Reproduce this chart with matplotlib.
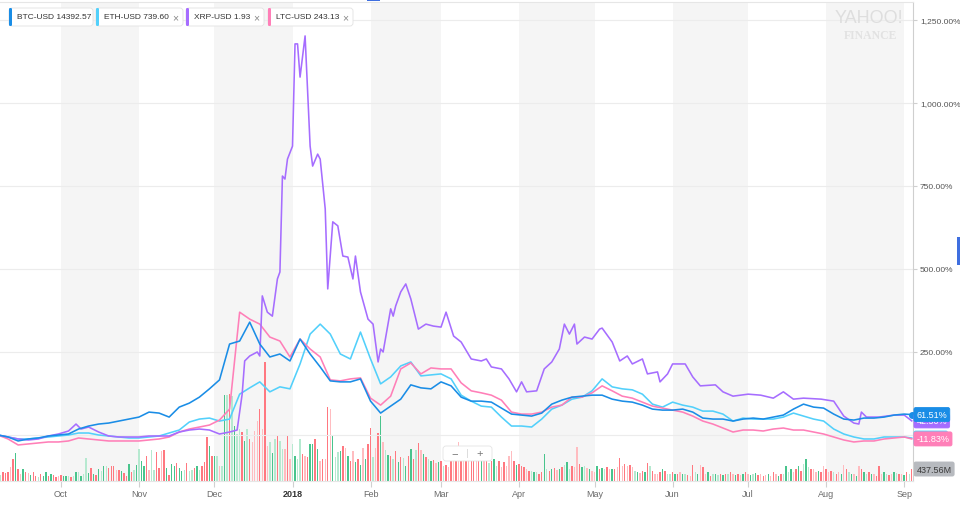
import numpy as np
import matplotlib
matplotlib.use("Agg")
import matplotlib.pyplot as plt
import matplotlib.dates as mdates
from matplotlib.patches import FancyBboxPatch, Rectangle
from matplotlib.transforms import blended_transform_factory

plt.rcParams['font.family'] = ['Liberation Sans', 'DejaVu Sans']

# ── data (percent change since 2017-09-06) ──────────────────────────────
start = np.datetime64("2017-09-06")

line_days = list(range(0, 361, 4)) + [363]

btc_pct = [0, -6, -18, -12, -9, -3, 0, 3, 18, 27,
           33, 36, 42, 48, 54, 69, 66, 54, 84, 96,
           114, 139, 166, 274, 283, 340, 274, 235, 244, 223,
           289, 244, 205, 163, 160, 160, 169, 102, 66, 87,
           108, 151, 142, 139, 160, 148, 114, 102, 102, 99,
           81, 63, 60, 57, 66, 93, 105, 114, 117, 120,
           120, 108, 102, 99, 90, 78, 75, 75, 78, 69,
           51, 48, 48, 42, 48, 51, 48, 54, 60, 78,
           93, 84, 81, 63, 48, 45, 51, 51, 54, 60,
           63, 61.51]

eth_pct = [0, -6, -12, -12, -9, -6, -3, 0, 6, 6,
           0, -3, -6, -9, -9, -6, -3, 6, 15, 39,
           48, 51, 42, 48, 123, 142, 160, 130, 145, 139,
           214, 304, 334, 304, 244, 229, 310, 229, 154, 175,
           208, 220, 178, 181, 184, 169, 120, 102, 87, 84,
           54, 27, 27, 24, 48, 78, 90, 108, 114, 133,
           169, 145, 139, 136, 123, 93, 84, 99, 90, 84,
           72, 72, 63, 42, 51, 48, 48, 48, 54, 66,
           57, 48, 42, 18, 3, -6, -12, -12, -6, -6,
           -6, -9.12]

ltc_pct = [0, -12, -30, -27, -24, -21, -21, -18, -9, -12,
           -15, -18, -18, -18, -18, -15, -12, -6, 9, 18,
           24, 30, 45, 78, 370, 349, 334, 295, 283, 235,
           289, 259, 235, 166, 163, 169, 172, 111, 90, 117,
           199, 217, 184, 202, 199, 199, 157, 133, 127, 120,
           105, 69, 63, 63, 69, 84, 90, 114, 114, 127,
           148, 133, 117, 111, 99, 87, 81, 75, 69, 57,
           42, 33, 21, 9, 15, 15, 12, 18, 21, 15,
           15, 9, 3, -6, -15, -21, -18, -18, -12, -9,
           -6, -11.83]

xrp_days = [0, 4, 8, 12, 16, 20, 24, 28, 31, 33,
            36, 40, 44, 48, 52, 56, 60, 64, 68, 72,
            76, 80, 84, 88, 92, 95, 97, 98, 100, 103,
            104, 105, 107, 109, 111, 112, 113, 114, 115, 117,
            118, 119, 120, 122, 124, 125, 127, 128, 130, 131,
            133, 135, 137, 139, 141, 142, 144, 147, 149, 151,
            152, 153, 156, 157, 158, 160, 162, 164, 166, 167,
            170, 173, 176, 178, 181, 184, 188, 192, 194, 196,
            200, 203, 206, 208, 210, 214, 217, 220, 223, 225,
            227, 229, 230, 233, 236, 239, 240, 244, 247, 250,
            252, 256, 258, 262, 263, 266, 268, 273, 276, 279,
            285, 288, 292, 298, 303, 308, 312, 316, 320, 327,
            332, 336, 340, 342, 343, 345, 350, 356, 360, 363]
xrp_pct = [0, -6, -12, -15, -12, -3, 3, 12, 33, 18,
           24, 9, -3, -6, -6, -6, -3, -3, -3, 9,
           15, 18, 15, 3, 9, 15, 123, 223, 238, 250,
           238, 419, 370, 358, 470, 491, 780, 771, 831, 870,
           1178, 1178, 1078, 1202, 870, 810, 846, 831, 681, 440,
           642, 630, 539, 536, 470, 539, 431, 349, 334, 220,
           259, 250, 380, 358, 389, 431, 455, 410, 349, 319,
           334, 328, 325, 370, 298, 280, 229, 223, 229, 205,
           199, 169, 130, 160, 130, 133, 199, 220, 259, 334,
           304, 334, 274, 295, 289, 319, 322, 280, 223, 238,
           214, 229, 184, 190, 160, 184, 214, 214, 175, 148,
           151, 130, 117, 123, 120, 111, 130, 108, 111, 108,
           102, 57, 36, 33, 69, 54, 54, 60, 60, 42.50]

# daily volume (millions), days 1..363
volume_m = [220, 330, 290, 330, 510, 800, 1020, 440, 260, 440,
            330, 290, 220, 330, 180, 150, 260, 180, 330, 180,
            260, 220, 150, 180, 220, 180, 180, 180, 150, 180,
            330, 330, 180, 260, 840, 290, 470, 260, 220, 440,
            370, 550, 550, 470, 550, 550, 400, 400, 370, 290,
            180, 620, 330, 400, 580, 1170, 730, 550, 910, 400,
            1130, 400, 1060, 470, 1100, 1130, 470, 220, 620, 550,
            660, 470, 370, 400, 660, 370, 400, 470, 550, 400,
            550, 690, 1610, 1280, 910, 910, 910, 550, 550, 3140,
            3140, 3180, 3100, 2010, 1720, 1900, 1790, 1460, 1900, 1530,
            1420, 1830, 2190, 2630, 1900, 4340, 1280, 1420, 1020, 1530,
            1640, 1460, 1170, 1170, 1640, 800, 1350, 910, 800, 1530,
            990, 910, 880, 1350, 1350, 1530, 1170, 730, 800, 800,
            2700, 2630, 1640, 880, 1060, 1100, 1280, 1200, 910, 730,
            1100, 690, 800, 580, 1200, 800, 1350, 1930, 880, 1200,
            1750, 2370, 1420, 1130, 950, 910, 800, 1100, 690, 880,
            840, 550, 910, 1170, 800, 1130, 1390, 1130, 990, 880,
            800, 730, 770, 660, 690, 730, 550, 580, 510, 800,
            730, 880, 1420, 800, 910, 800, 730, 880, 770, 910,
            800, 730, 880, 800, 660, 730, 800, 550, 730, 510,
            690, 550, 910, 1100, 730, 580, 620, 550, 510, 440,
            370, 370, 330, 330, 260, 330, 990, 440, 370, 440,
            470, 400, 440, 510, 580, 690, 440, 550, 510, 1240,
            620, 510, 550, 470, 440, 370, 330, 550, 440, 470,
            440, 510, 440, 440, 440, 510, 840, 550, 620, 550,
            580, 510, 370, 330, 290, 370, 330, 660, 550, 370,
            260, 260, 330, 440, 370, 260, 260, 330, 260, 260,
            330, 260, 260, 220, 180, 580, 330, 260, 580, 510,
            260, 330, 180, 260, 260, 220, 260, 220, 260, 260,
            330, 260, 220, 260, 220, 260, 330, 260, 220, 260,
            290, 220, 260, 180, 220, 260, 180, 330, 260, 180,
            260, 260, 550, 330, 440, 330, 440, 550, 370, 620,
            800, 510, 440, 440, 330, 370, 330, 550, 440, 330,
            370, 330, 260, 330, 260, 580, 440, 330, 260, 260,
            180, 550, 440, 330, 260, 330, 260, 260, 180, 550,
            260, 330, 260, 220, 260, 330, 290, 260, 260, 220,
            330, 260, 437.56]
# G/g = up day (dark/light), R/r = down day (dark/light)
volume_kind = ("gRRRrRGRrGRrGRRgRGGRGRRr"
               "RGGgRgGgGggGRGRGgGgRRRrRGRRGRgGg"
               "GGRrggRRrRGRGGRGGgRggRGgRRRGRG"
               "grgGgRgGggRGgRrrrRrRrgGgRggrRrg"
               "GggRrRGGRG"
               "rRrRrGggGRrGRrGRGrGRRgrRGrgGRgRGRgGRGRgRrGRgGRrGRgRr"
               "RrRrRrRrRRrRGrRgR"
               "GgRrRrrrRGRRRrRgGgRRGgRGRrGRgGgRrrRGgrGrrGRGgRrGRrR"
               "rRrRrgGrRGRgRrrRGRggRGRrGgRrRgGrRrGRgGgRGRgRrGRrGR"
               "rGgGRrRrGrRrGRgGgGrRGRgGgRrrGRrRrRgRrGrRgGrGrRGgRG"
               "rRRrGgRrGgRrGRgR")

legend_labels = ["BTC-USD 14392.57", "ETH-USD 739.60", "XRP-USD 1.93", "LTC-USD 243.13"]
month_ticks = ["2017-10-01", "2017-11-01", "2017-12-01", "2018-01-01", "2018-02-01",
               "2018-03-01", "2018-04-01", "2018-05-01", "2018-06-01", "2018-07-01",
               "2018-08-01", "2018-09-01"]
month_labels = ["Oct", "Nov", "Dec", "2018", "Feb", "Mar", "Apr", "May", "Jun", "Jul", "Aug", "Sep"]
shaded_months = [("2017-10-01", "2017-11-01"), ("2017-12-01", "2018-01-01"),
                 ("2018-02-01", "2018-03-01"), ("2018-04-01", "2018-05-01"),
                 ("2018-06-01", "2018-07-01"), ("2018-08-01", "2018-09-01")]

# ── styling ────────────────────────────────────────────────────────
BTC_C, ETH_C, XRP_C, LTC_C = "#1a8de6", "#52d0fb", "#a66dff", "#ff7fb8"
vol_colors = {"G": "#49c48c", "g": "#b6e9d0", "R": "#ff7880", "r": "#ffbcc0"}
W, H = 960, 506


def days_to_dates(days):
    return start + np.array(days).astype("timedelta64[D]")


def px(x, y):
    # pixel (from top-left) -> inches for fig.dpi_scale_trans
    return x / 100, (H - y) / 100


fig = plt.figure(figsize=(W / 100, H / 100), dpi=100)
rect = [0, (H - 482) / H, 913 / W, 479 / H]
ax_v = fig.add_axes(rect)
ax = fig.add_axes(rect)
ax.set_facecolor("none")

x0 = mdates.date2num(start) + 0.8
x1 = mdates.date2num(start) + 363.5

# ── background bands + volume ─────────────────────────────────────
for a, b in shaded_months:
    ax_v.axvspan(np.datetime64(a), np.datetime64(b), color="#f5f5f5", lw=0, zorder=0)

n = min(len(volume_m), len(volume_kind))
vol_dates = days_to_dates(range(1, n + 1))
ax_v.bar(vol_dates, volume_m[:n], width=0.55,
         color=[vol_colors[k] for k in volume_kind[:n]], zorder=2)
ax_v.set_xlim(x0, x1)
ax_v.set_ylim(0, 479 * 36.5)
ax_v.set_xticks([])
ax_v.set_yticks([])
for s in ax_v.spines.values():
    s.set_visible(False)

# ── price lines ───────────────────────────────────────────────────
ld = days_to_dates(line_days)
ax.plot(ld, eth_pct, color=ETH_C, lw=1.15, zorder=3)
ax.plot(ld, ltc_pct, color=LTC_C, lw=1.15, zorder=3)
ax.plot(days_to_dates(xrp_days), xrp_pct, color=XRP_C, lw=1.15, zorder=3)
ax.plot(ld, btc_pct, color=BTC_C, lw=1.15, zorder=4)
ax.plot(ld[-1], btc_pct[-1], "o", ms=4, color=BTC_C, zorder=5, clip_on=False)

ax.set_xlim(x0, x1)
ax.set_ylim((436 - 482) * 3.012, (436 - 3) * 3.012)

yt = [0, 250, 500, 750, 1000, 1250]
ax.yaxis.tick_right()
ax.set_yticks(yt)
ax.set_yticklabels(["" if v == 0 else f"{v:,.2f}%" for v in yt])
ax.tick_params(axis="y", length=3, color="#cfcfcf", labelsize=6, labelcolor="#555555", pad=2)
ax.grid(axis="y", color="#ececec", lw=0.8, zorder=1)

ax.set_xticks([np.datetime64(m) for m in month_ticks])
ax.set_xticklabels(month_labels)
ax.tick_params(axis="x", length=4, color="#d0d0d0", labelsize=6.5, labelcolor="#6b6b6b", pad=2)
for lab in ax.get_xticklabels():
    if lab.get_text() == "2018":
        lab.set_color("#333333")
        lab.set_fontweight("bold")

ax.spines["left"].set_visible(False)
ax.spines["top"].set_color("#e6e6e6")
ax.spines["top"].set_linewidth(0.8)
ax.spines["bottom"].set_color("#e6e6e6")
ax.spines["bottom"].set_linewidth(0.8)
ax.spines["right"].set_color("#cfcfcf")
ax.spines["right"].set_linewidth(0.8)

# ── end-of-series labels on the right axis ───────────────────────
tr = blended_transform_factory(ax.transAxes, ax.transData)


def end_label(axis, trans, value, text, fc, tc="white"):
    axis.annotate(text, xy=(1, value), xycoords=trans, xytext=(2.5, 0),
                  textcoords="offset points", ha="left", va="center",
                  fontsize=6.5, color=tc, annotation_clip=False, zorder=10,
                  bbox=dict(boxstyle="round,pad=0.28,rounding_size=0.2", fc=fc, ec=fc, lw=0.6))


# the XRP and ETH tags sit partly under the BTC and LTC tags, as in the source chart
end_label(ax, tr, xrp_pct[-1], f"{xrp_pct[-1]:.2f}%", XRP_C)
end_label(ax, tr, btc_pct[-1], f"{btc_pct[-1]:.2f}%", BTC_C)
end_label(ax, tr, eth_pct[-1], f"{eth_pct[-1]:.2f}%", ETH_C)
end_label(ax, tr, ltc_pct[-1], f"{ltc_pct[-1]:.2f}%", LTC_C)
end_label(ax_v, blended_transform_factory(ax_v.transAxes, ax_v.transData),
          volume_m[n - 1], f"{volume_m[n - 1]:.2f}M", "#b7babf", tc="#3a3a3a")

# ── legend chips ─────────────────────────────────────────────────
chip_spans = [(9, 93), (96, 183), (186, 264), (268, 353)]
chip_colors = [BTC_C, ETH_C, XRP_C, LTC_C]
dt = fig.dpi_scale_trans
for i, (lab, (cx0, cx1), col) in enumerate(zip(legend_labels, chip_spans, chip_colors)):
    bx, by = px(cx0, 27)
    fig.patches.append(FancyBboxPatch((bx, by), (cx1 - cx0) / 100, 0.18,
                                      boxstyle="round,pad=0,rounding_size=0.03",
                                      fc="white", ec="#e2e2e2", lw=0.6, transform=dt, figure=fig))
    fig.patches.append(FancyBboxPatch((bx, by), 0.03, 0.18,
                                      boxstyle="round,pad=0,rounding_size=0.012",
                                      fc=col, ec=col, lw=0, transform=dt, figure=fig))
    tx, ty = px(cx0 + 8, 18)
    fig.text(tx, ty, lab, transform=dt, fontsize=6, color="#333333", va="center", ha="left")
    if i > 0:
        kx, ky = px(cx1 - 8, 18)
        fig.text(kx, ky, "×", transform=dt, fontsize=7.5, color="#8a8a8a", va="center", ha="center")

# ── watermark ────────────────────────────────────────────────────
fig.text(*px(869, 19), "YAHOO!", transform=dt, fontsize=13, color="#dedede",
         ha="center", va="center")
fig.text(*px(871, 36), "FINANCE", transform=dt, fontsize=8.5, color="#e2e2e2",
         ha="center", va="center", family=["Liberation Serif", "DejaVu Serif"], fontweight="bold")

# ── zoom control ─────────────────────────────────────────────────
zx, zy = px(443, 462)
fig.patches.append(FancyBboxPatch((zx, zy), 0.49, 0.15, boxstyle="round,pad=0,rounding_size=0.03",
                                  fc="white", ec="#e4e4e4", lw=0.6, transform=dt, figure=fig))
fig.text(*px(455, 454.5), "−", transform=dt, fontsize=8, color="#777777", ha="center", va="center")
fig.text(*px(480, 454.5), "+", transform=dt, fontsize=8, color="#777777", ha="center", va="center")
sx, sy = px(467, 459)
fig.patches.append(Rectangle((sx, sy), 0.006, 0.09, fc="#dddddd", ec="none", transform=dt, figure=fig))

# small blue markers at the chart edges
fig.patches.append(Rectangle(px(367, 2), 0.13, 0.02, fc="#3f6fe0", ec="none", transform=dt, figure=fig))
fig.patches.append(Rectangle(px(957, 266), 0.03, 0.28, fc="#3f6fe0", ec="none", transform=dt, figure=fig))

fig.savefig("out.png", dpi=100)
